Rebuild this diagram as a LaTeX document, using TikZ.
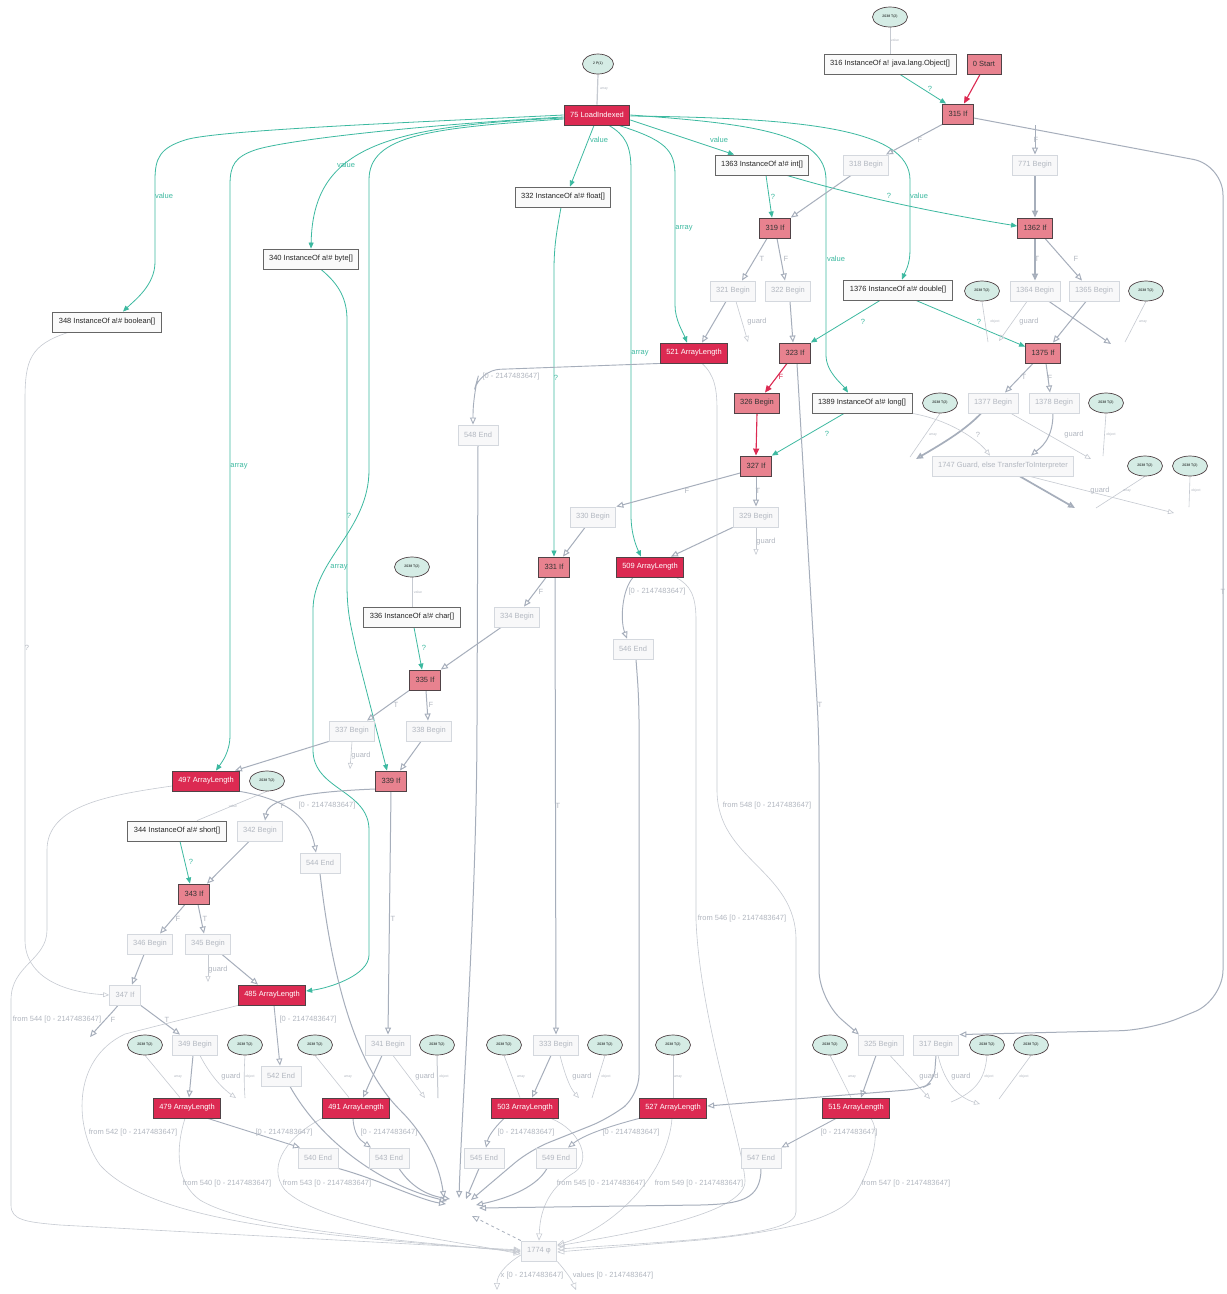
\documentclass[tikz,border=0pt]{standalone}
\usepackage{fontspec}
\setmainfont{Liberation Sans}
\usetikzlibrary{arrows.meta,shapes.geometric}
\definecolor{hotred}{RGB}{220,42,82}
\definecolor{pinkred}{RGB}{232,130,143}
\definecolor{darkedge}{RGB}{80,66,70}
\definecolor{tealc}{RGB}{60,185,160}
\definecolor{ctrlc}{RGB}{166,174,187}
\definecolor{fadefill}{RGB}{248,248,249}
\definecolor{fadeline}{RGB}{212,216,222}
\definecolor{fadetext}{RGB}{178,183,192}
\definecolor{mint}{RGB}{213,236,229}
\definecolor{thinc}{RGB}{198,202,209}
\definecolor{instfill}{RGB}{250,250,250}
\pgfdeclarelayer{bg}
\pgfdeclarelayer{edges}
\pgfsetlayers{bg,edges,main}
\begin{document}
\begin{tikzpicture}[x=1pt,y=-1pt,
  every node/.style={font=\fontsize{7.5}{9}\selectfont, inner sep=1pt},
  box/.style={rectangle, minimum height=20pt, inner xsep=6pt, inner ysep=0pt, line width=0.9pt},
  hot/.style={box, fill=hotred, draw=darkedge, text=white},
  cond/.style={box, fill=pinkred, draw=darkedge, text=black!80},
  inst/.style={box, fill=instfill, draw=black!60, text=black!85},
  faded/.style={box, fill=fadefill, draw=fadeline, text=fadetext},
  oval/.style={ellipse, draw=darkedge, fill=mint, minimum width=35pt, minimum height=20pt, inner sep=0pt, line width=0.7pt, font=\fontsize{3.5}{4}\selectfont},
  data/.style={draw=tealc, line width=0.8pt, -{Triangle[length=6pt,width=5pt]}},
  ctl/.style={draw=ctrlc, line width=1pt, -{Triangle[open,length=7pt,width=6pt]}},
  ctlthick/.style={ctl, line width=1.7pt},
  hotedge/.style={draw=hotred, line width=1.1pt, -{Triangle[length=7pt,width=6pt]}},
  faint/.style={draw=thinc, line width=0.6pt},
  fainta/.style={faint, -{Triangle[open,length=6pt,width=5pt]}},
  tlab/.style={text=tealc},
  glab/.style={text=fadetext},
  slab/.style={text=fadetext, font=\fontsize{3.5}{4}\selectfont},
  rlab/.style={text=hotred},
]
\begin{pgfonlayer}{bg}
\fill[white] (0,0) rectangle (1227,1294);
\end{pgfonlayer}
\useasboundingbox (0,0) rectangle (1227,1294);

% ---------------- nodes ----------------
\node[oval] (t0) at (890,17) {2038 T(2)};
\node[inst] (i316) at (890,64) {316 InstanceOf a! java.lang.Object[]};
\node[cond] (start) at (984,64) {0 Start};
\node[cond] (if315) at (958,114) {315 If};
\node[oval, minimum width=31pt] (p1) at (598,64) {2 P(1)};
\node[hot] (lid) at (597,115) {75 LoadIndexed};
\node[inst] (i1363) at (762,165) {1363 InstanceOf a!\# int[]};
\node[faded] (b318) at (866,165) {318 Begin};
\node[faded] (b771) at (1035,165) {771 Begin};
\node[inst] (i332) at (563,197) {332 InstanceOf a!\# float[]};
\node[cond] (if319) at (775,228) {319 If};
\node[cond] (if1362) at (1035,228) {1362 If};
\node[inst] (i340) at (311,259) {340 InstanceOf a!\# byte[]};
\node[faded] (b321) at (733,291) {321 Begin};
\node[faded] (b322) at (788,291) {322 Begin};
\node[inst] (i1376) at (898,290) {1376 InstanceOf a!\# double[]};
\node[oval] (t1) at (982,291) {2038 T(2)};
\node[faded] (b1364) at (1035,291) {1364 Begin};
\node[faded] (b1365) at (1094,291) {1365 Begin};
\node[oval] (t2) at (1146,291) {2038 T(2)};
\node[inst] (i348) at (107,322) {348 InstanceOf a!\# boolean[]};
\node[hot] (al521) at (694,353) {521 ArrayLength};
\node[cond] (if323) at (795,353) {323 If};
\node[cond] (if1375) at (1043,353) {1375 If};
\node[faded] (e548) at (478,435) {548 End};
\node[cond] (b326) at (757,403) {326 Begin};
\node[inst] (i1389) at (862,403) {1389 InstanceOf a!\# long[]};
\node[oval] (t3) at (940,403) {2038 T(2)};
\node[faded] (b1377) at (993,403) {1377 Begin};
\node[faded] (b1378) at (1054,403) {1378 Begin};
\node[oval] (t4) at (1106,403) {2038 T(2)};
\node[cond] (if327) at (756,466) {327 If};
\node[faded] (g1747) at (1003,466) {1747 Guard, else TransferToInterpreter};
\node[oval] (t5) at (1145,466) {2038 T(2)};
\node[oval] (t6) at (1190,466) {2038 T(2)};
\node[faded] (b330) at (593,517) {330 Begin};
\node[faded] (b329) at (756,517) {329 Begin};
\node[cond] (if331) at (554,567) {331 If};
\node[hot] (al509) at (650,567) {509 ArrayLength};
\node[oval] (t7) at (412,567) {2038 T(2)};
\node[faded] (b334) at (517,617) {334 Begin};
\node[inst] (i336) at (412,617) {336 InstanceOf a!\# char[]};
\node[faded] (e546) at (633,649) {546 End};
\node[cond] (if335) at (425,680) {335 If};
\node[faded] (b337) at (352,731) {337 Begin};
\node[faded] (b338) at (429,731) {338 Begin};
\node[hot] (al497) at (206,781) {497 ArrayLength};
\node[oval] (t8) at (267,781) {2038 T(2)};
\node[cond] (if339) at (391,781) {339 If};
\node[inst] (i344) at (177,831) {344 InstanceOf a!\# short[]};
\node[faded] (b342) at (260,831) {342 Begin};
\node[faded] (e544) at (320,863) {544 End};
\node[cond] (if343) at (194,894) {343 If};
\node[faded] (b346) at (150,944) {346 Begin};
\node[faded] (b345) at (208,944) {345 Begin};
\node[faded] (if347) at (125,995) {347 If};
\node[hot] (al485) at (272,995) {485 ArrayLength};
\node[oval] (t9) at (145,1045) {2038 T(2)};
\node[faded] (b349) at (195,1045) {349 Begin};
\node[oval] (t10) at (245,1045) {2038 T(2)};
\node[oval] (t11) at (315,1045) {2038 T(2)};
\node[faded] (b341) at (388,1045) {341 Begin};
\node[oval] (t12) at (437,1045) {2038 T(2)};
\node[oval] (t13) at (504,1045) {2038 T(2)};
\node[faded] (b333) at (556,1045) {333 Begin};
\node[oval] (t14) at (605,1045) {2038 T(2)};
\node[oval] (t15) at (673,1045) {2038 T(2)};
\node[oval] (t16) at (830,1045) {2038 T(2)};
\node[faded] (b325) at (881,1045) {325 Begin};
\node[faded] (b317) at (936,1045) {317 Begin};
\node[oval] (t17) at (987,1045) {2038 T(2)};
\node[oval] (t18) at (1031,1045) {2038 T(2)};
\node[faded] (e542) at (281,1076) {542 End};
\node[hot] (al479) at (187,1108) {479 ArrayLength};
\node[hot] (al491) at (356,1108) {491 ArrayLength};
\node[hot] (al503) at (525,1108) {503 ArrayLength};
\node[hot] (al527) at (673,1108) {527 ArrayLength};
\node[hot] (al515) at (856,1108) {515 ArrayLength};
\node[faded] (e540) at (318,1158) {540 End};
\node[faded] (e543) at (389,1158) {543 End};
\node[faded] (e545) at (484,1158) {545 End};
\node[faded] (e549) at (556,1158) {549 End};
\node[faded] (e547) at (761,1158) {547 End};
\node[faded] (phi) at (539,1251) {1774 φ};

% free ends
\coordinate (u771) at (1035,125);
\coordinate (d321) at (748,342);
\coordinate (d1364a) at (999,341);
\coordinate (d1364b) at (1111,344);
\coordinate (dt1) at (988,342);
\coordinate (dt2) at (1125,342);
\coordinate (d1377a) at (916,459);
\coordinate (d1377b) at (1091,459);
\coordinate (dt3) at (910,457);
\coordinate (dt4) at (1103,456);
\coordinate (d1747a) at (1075,508);
\coordinate (d1747b) at (1174,513);
\coordinate (dt5) at (1096,508);
\coordinate (dt6) at (1189,507);
\coordinate (d329) at (756,555);
\coordinate (d337) at (350,769);
\coordinate (d345) at (208,982);
\coordinate (d347) at (90,1037);
\coordinate (d349) at (236,1098);
\coordinate (dt10) at (245,1098);
\coordinate (d341) at (425,1098);
\coordinate (dt12) at (438,1098);
\coordinate (d333) at (579,1098);
\coordinate (dt14) at (592,1098);
\coordinate (d325) at (930,1099);
\coordinate (d317) at (980,1104);
\coordinate (dt17) at (951,1102);
\coordinate (dt18) at (999,1099);
\coordinate (mA) at (459,1198);
\coordinate (mB) at (471,1200);
\coordinate (mC) at (444,1198);
\coordinate (mD) at (447,1201);
\coordinate (mE) at (446,1204);
\coordinate (mF) at (450,1199);
\coordinate (mG) at (466,1199);
\coordinate (mH) at (476,1205);
\coordinate (mI) at (479,1208);
\coordinate (mJ) at (472,1216);
\coordinate (px) at (497,1290);
\coordinate (pv) at (576,1290);

\begin{pgfonlayer}{edges}
% ---------------- data (teal) edges ----------------
\draw[data] ([xshift=10pt]i316.south) -- ([xshift=-12pt]if315.north);
\draw[data] (lid.west) .. controls (420,122) and (215,130) .. (185,140) .. controls (160,148) and (155,158) .. (155,180) -- (155,262) .. controls (155,285) and (135,300) .. ([xshift=16pt]i348.north);
\draw[data] ([yshift=-2pt]lid.west) .. controls (420,125) and (285,140) .. (255,150) .. controls (235,157) and (230,165) .. (230,185) -- (230,735) .. controls (230,752) and (222,762) .. ([xshift=10pt]al497.north);
\draw[data] ([yshift=-3pt]lid.west) .. controls (380,126) and (313,150) .. (i340.north);
\draw[data] ([yshift=-4pt]lid.west) .. controls (430,128) and (369,135) .. (369,180) -- (369,470) .. controls (369,530) and (313,560) .. (313,610) -- (313,750) .. controls (313,790) and (369,790) .. (369,830) -- (369,955) .. controls (369,975) and (330,988) .. ([yshift=4pt]al485.east);
\draw[data] ([xshift=10pt]i340.south) .. controls (340,285) and (347,300) .. (347,320) -- (347,585) .. controls (347,615) and (352,630) .. (356,650) -- ([xshift=-4pt]if339.north);
\draw[data] ([xshift=-3pt]lid.south) -- ([xshift=7pt]i332.north);
\draw[data] ([xshift=-2pt]i332.south) .. controls (557,230) and (554,245) .. (554,270) -- (if331.north);
\draw[data] ([xshift=12pt]lid.south) .. controls (625,135) and (631,145) .. (631,170) -- (631,515) .. controls (631,535) and (637,548) .. ([xshift=-9pt]al509.north);
\draw[data] ([xshift=22pt]lid.south) .. controls (665,140) and (675,150) .. (675,175) -- (675,305) .. controls (675,320) and (683,332) .. ([xshift=-7pt]al521.north);
\draw[data] ([yshift=-5pt]lid.east) -- ([xshift=-28pt]i1363.north);
\draw[data] ([xshift=4pt]i1363.south) -- ([xshift=-3pt]if319.north);
\draw[data] ([xshift=25pt]i1363.south) .. controls (870,200) and (950,215) .. ([yshift=2pt]if1362.west);
\draw[data] ([yshift=-1pt]lid.east) .. controls (800,118) and (910,128) .. (910,180) -- (910,250) .. controls (910,265) and (905,272) .. ([xshift=4pt]i1376.north);
\draw[data] (lid.east) .. controls (760,124) and (826,135) .. (826,180) -- (826,355) .. controls (826,372) and (842,384) .. ([xshift=-14pt]i1389.north);
\draw[data] ([xshift=-18pt]i1376.south) -- (if323.north east);
\draw[data] ([xshift=18pt]i1376.south) -- ([yshift=-4pt]if1375.north west);
\draw[data] ([xshift=-18pt]i1389.south) -- (if327.north east);
\draw[data] ([xshift=2pt]i336.south) -- ([xshift=-3pt]if335.north);
\draw[data] ([xshift=3pt]i344.south) -- ([xshift=-4pt]if343.north);

% ---------------- thin attachments ----------------
\draw[faint] (t0.south) -- (i316.north);
\draw[faint, line width=1.2pt] (p1.south) -- (lid.north);
\draw[faint] (t1.south) -- (dt1);
\draw[faint] (t2.south) -- (dt2);
\draw[faint] (t3.south) -- (dt3);
\draw[faint] (t4.south) -- (dt4);
\draw[faint] (t5.south) -- (dt5);
\draw[faint] (t6.south) -- (dt6);
\draw[faint] (t7.south) -- (i336.north);
\draw[faint] (t8.south) -- ([xshift=20pt]i344.north);
\draw[faint] (t9.south) -- ([xshift=-7pt]al479.north);
\draw[faint] (t10.south) .. controls (244,1070) and (244,1085) .. (dt10);
\draw[faint] (t11.south) -- ([xshift=-7pt]al491.north);
\draw[faint, line width=1pt] (t12.south) -- (dt12);
\draw[faint] (t13.south) -- ([xshift=-5pt]al503.north);
\draw[faint] (t14.south) -- (dt14);
\draw[faint] (t15.south) -- (al527.north);
\draw[faint] (t16.south) -- ([xshift=-5pt]al515.north);
\draw[faint] (t17.south) .. controls (985,1080) and (975,1092) .. (dt17);
\draw[faint] (t18.south) -- (dt18);

% ---------------- red edges ----------------
\draw[hotedge] ([xshift=-4pt]start.south) -- ([xshift=6pt]if315.north);
\draw[hotedge] ([xshift=-8pt]if323.south) -- ([xshift=8pt]b326.north);
\draw[hotedge] (b326.south) -- (if327.north);

% ---------------- control edges ----------------
\draw[ctl] (if315.south west) -- ([xshift=20pt]b318.north);
\draw[ctl, rounded corners=30pt] ([yshift=-4pt]if315.east) -- (1223,165) -- (1223,1000) -- (1150,1030) -- (b317.north east);
\draw[ctl] (u771) -- (b771.north);
\draw[ctlthick] (b771.south) -- (if1362.north);
\draw[ctl] ([xshift=-15pt]b318.south) -- (if319.north east);
\draw[ctlthick] (if1362.south) -- (b1364.north);
\draw[ctl] ([xshift=10pt]if1362.south) -- ([xshift=-12pt]b1365.north);
\draw[ctl] ([xshift=-8pt]if319.south) -- ([xshift=9pt]b321.north);
\draw[ctl] ([xshift=2pt]if319.south) -- ([xshift=-3pt]b322.north);
\draw[ctl] ([xshift=-7pt]b321.south) -- ([xshift=8pt]al521.north);
\draw[fainta] ([xshift=3pt]b321.south) -- (d321);
\draw[ctl] ([xshift=2pt]b322.south) -- ([xshift=-2pt]if323.north);
\draw[fainta] ([xshift=-8pt]b1364.south) -- (d1364a);
\draw[ctl] ([xshift=14pt]b1364.south) -- (d1364b);
\draw[ctl] ([xshift=-8pt]b1365.south) -- ([xshift=10pt]if1375.north);
\draw[ctl] ([xshift=-10pt]if1375.south) -- ([xshift=12pt]b1377.north);
\draw[ctl] ([xshift=3pt]if1375.south) -- ([xshift=-4pt]b1378.north);
\draw[ctlthick] ([xshift=-12pt]b1377.south) .. controls (965,430) and (945,442) .. (d1377a);
\draw[fainta] ([xshift=18pt]b1377.south) -- (d1377b);
\draw[ctl] ([xshift=-1pt]b1378.south) .. controls (1053,440) and (1040,448) .. ([xshift=28pt]g1747.north);
\draw[fainta] (i1389.south east) .. controls (950,420) and (978,440) .. ([xshift=-13pt]g1747.north);
\draw[ctlthick] ([xshift=17pt]g1747.south) -- (d1747a);
\draw[fainta] ([xshift=27pt]g1747.south) -- (d1747b);
\draw[ctl, rounded corners=30pt] ([xshift=2pt]if323.south) -- (819,735) -- (819,1000) -- ([xshift=-22pt]b325.north);
\draw[ctl] ([yshift=-7pt]if327.west) -- (b330.north east);
\draw[ctl] (if327.south) -- (b329.north);
\draw[ctl] (b329.south west) -- ([xshift=21pt]al509.north);
\draw[fainta] (b329.south) -- (d329);
\draw[ctl] ([xshift=-8pt]b330.south) -- ([xshift=9pt]if331.north);
\draw[ctl] ([xshift=-8pt]if331.south) -- ([xshift=7pt]b334.north);
\draw[ctl] ([xshift=1pt]if331.south) -- (b333.north);
\draw[ctl] ([xshift=-16pt]b334.south) -- (if335.north east);
\draw[ctl] (if335.south west) -- ([xshift=15pt]b337.north);
\draw[ctl] ([xshift=1pt]if335.south) -- ([xshift=-1pt]b338.north);
\draw[ctl] (b337.south west) -- ([xshift=29pt]al497.north);
\draw[fainta] (b337.south) -- (d337);
\draw[ctl] ([xshift=-8pt]b338.south) -- ([xshift=9pt]if339.north);
\draw[ctl] ([yshift=-8pt]if339.west) .. controls (300,792) and (268,800) .. ([xshift=5pt]b342.north);
\draw[ctl] (if339.south) -- (b341.north);
\draw[ctl] ([xshift=-11pt]b342.south) -- ([xshift=13pt]if343.north);
\draw[ctl] ([xshift=-9pt]if343.south) -- ([xshift=10pt]b346.north);
\draw[ctl] ([xshift=4pt]if343.south) -- ([xshift=-4pt]b345.north);
\draw[ctl] ([xshift=14pt]b345.south) -- ([xshift=-14pt]al485.north);
\draw[fainta] (b345.south) -- (d345);
\draw[ctl] ([xshift=-6pt]b346.south) -- ([xshift=7pt]if347.north);
\draw[fainta] ([xshift=-39pt]i348.south) .. controls (30,345) and (25,360) .. (25,400) -- (25,940) .. controls (25,975) and (60,992) .. (if347.west);
\draw[ctl] ([xshift=-7pt]if347.south) .. controls (110,1015) and (100,1025) .. (d347);
\draw[ctl] (if347.south east) -- ([xshift=-15pt]b349.north);
\draw[ctl] ([xshift=-2pt]b349.south) -- ([xshift=2pt]al479.north);
\draw[fainta] ([xshift=5pt]b349.south) .. controls (210,1075) and (222,1088) .. (d349);
\draw[ctl] ([xshift=-6pt]b341.south) -- ([xshift=7pt]al491.north);
\draw[fainta] ([xshift=5pt]b341.south) -- (d341);
\draw[ctl] ([xshift=-5pt]b333.south) -- ([xshift=7pt]al503.north);
\draw[fainta] ([xshift=4pt]b333.south) .. controls (565,1075) and (570,1088) .. (d333);
\draw[ctl] ([xshift=-5pt]b325.south) -- ([xshift=5pt]al515.north);
\draw[fainta] ([xshift=9pt]b325.south) -- (d325);
\draw[ctl, rounded corners=12pt] (b317.south) -- (934,1082) -- (920,1089) -- ([yshift=2pt]al527.east);
\draw[fainta] ([xshift=2pt]b317.south) .. controls (945,1085) and (960,1098) .. (d317);

% ---------------- ArrayLength outputs ----------------
\draw[ctl, line width=0.9pt, rounded corners=20pt] (al521.south west) -- (480,370) -- (473,395) -- ([xshift=-5pt]e548.north);
\draw[faint, -{Triangle[open,length=7pt,width=6pt]}] ([xshift=8pt]al521.south) .. controls (715,375) and (717,390) .. (717,410) -- (717,790) .. controls (717,860) and (796,870) .. (796,940) -- (796,1212) .. controls (796,1235) and (700,1240) .. ([yshift=2pt]phi.east);
\draw[ctl, line width=0.9pt] ([xshift=-17pt]al509.south) .. controls (622,590) and (620,620) .. ([xshift=-6pt]e546.north);
\draw[faint, -{Triangle[open,length=7pt,width=6pt]}] ([xshift=26pt]al509.south) .. controls (690,585) and (696,595) .. (696,620) -- (696,920) .. controls (700,1020) and (742,1140) .. (745,1180) .. controls (748,1215) and (620,1235) .. ([yshift=5pt]phi.east);
\draw[ctl, line width=0.9pt] (al497.south east) .. controls (290,800) and (310,820) .. ([xshift=-4pt]e544.north);
\draw[faint, -{Triangle[open,length=7pt,width=6pt]}] ([yshift=-5pt]al497.west) .. controls (110,795) and (47,805) .. (47,850) -- (47,930) .. controls (47,960) and (11,965) .. (11,1000) -- (11,1205) .. controls (11,1220) and (25,1222) .. (60,1225) -- ([yshift=1pt]phi.west);
\draw[ctl, line width=0.9pt] ([xshift=2pt]al485.south) -- ([xshift=-1pt]e542.north);
\draw[faint, -{Triangle[open,length=7pt,width=6pt]}] (al485.south west) -- (125,1034) .. controls (70,1060) and (75,1130) .. (100,1165) .. controls (150,1220) and (300,1235) .. (phi.west);
\draw[ctl, line width=0.9pt] ([xshift=21pt]al479.south) -- ([xshift=-18pt]e540.north);
\draw[faint, -{Triangle[open,length=7pt,width=6pt]}] ([xshift=-2pt]al479.south) .. controls (178,1140) and (172,1180) .. (200,1200) .. controls (250,1230) and (400,1240) .. ([yshift=-1pt]phi.west);
\draw[ctl, line width=0.9pt] ([xshift=-3pt]al491.south) .. controls (354,1135) and (360,1140) .. ([xshift=-18pt]e543.north);
\draw[faint, -{Triangle[open,length=7pt,width=6pt]}] (al491.south west) .. controls (290,1135) and (265,1165) .. (285,1190) .. controls (320,1225) and (450,1240) .. ([yshift=-3pt]phi.west);
\draw[ctl, line width=0.9pt] ([xshift=-21pt]al503.south) .. controls (492,1130) and (488,1138) .. ([xshift=2pt]e545.north);
\draw[faint, -{Triangle[open,length=7pt,width=6pt]}] ([xshift=26pt]al503.south) .. controls (580,1130) and (592,1160) .. (575,1172) .. controls (545,1190) and (540,1215) .. (phi.north);
\draw[ctl, line width=0.9pt] ([xshift=-34pt]al527.south) .. controls (595,1130) and (580,1138) .. ([xshift=12pt]e549.north);
\draw[faint, -{Triangle[open,length=7pt,width=6pt]}] ([xshift=-1pt]al527.south) .. controls (668,1170) and (620,1225) .. ([yshift=6pt]phi.east);
\draw[ctl, line width=0.9pt] ([xshift=-20pt]al515.south) -- (e547.north east);
\draw[faint, -{Triangle[open,length=7pt,width=6pt]}] ([xshift=15pt]al515.south) .. controls (882,1135) and (870,1170) .. (855,1195) .. controls (840,1215) and (800,1230) .. (700,1240) -- ([yshift=-1pt]phi.east);

% ---------------- End nodes to merge ----------------
\draw[ctl] (e548.south) -- (477,720) .. controls (477,900) and (462,1100) .. (mA);
\draw[ctl, rounded corners=20pt] ([xshift=3pt]e546.south) -- (639,700) -- (639,1095) -- (610,1118) -- (530,1150) -- (mB);
\draw[ctl] (e544.south) .. controls (330,960) and (350,1060) .. (400,1110) .. controls (430,1140) and (440,1170) .. (mC);
\draw[ctl] ([xshift=9pt]e542.south) .. controls (320,1140) and (380,1185) .. (mD);
\draw[ctl] (e540.south east) .. controls (380,1180) and (420,1200) .. (mE);
\draw[ctl] ([xshift=10pt]e543.south) .. controls (410,1185) and (425,1195) .. (mF);
\draw[ctl] ([xshift=-5pt]e545.south) -- (mG);
\draw[ctl] ([xshift=-9pt]e549.south) .. controls (535,1190) and (500,1200) .. (mH);
\draw[ctl] (e547.south) .. controls (761,1200) and (740,1204) .. (700,1205) -- (mI);
\draw[ctl, dashed, line width=0.8pt] (phi.north west) -- (mJ);
\draw[faint, -{Triangle[open,length=7pt,width=6pt]}] ([yshift=-4pt]phi.west) .. controls (505,1265) and (497,1275) .. (px);
\draw[faint, -{Triangle[open,length=7pt,width=6pt]}] (phi.south east) .. controls (565,1270) and (572,1280) .. (pv);
\end{pgfonlayer}

% ---------------- labels ----------------
\node[tlab] (lq1) at (930,89) {?};
\node[tlab] (lv1) at (164,196) {value};
\node[tlab] (la1) at (239,466) {array};
\node[tlab] (lv2) at (346,165) {value};
\node[tlab] (la2) at (339,567) {array};
\node[tlab] (lq2) at (349,516) {?};
\node[tlab] (lv3) at (599,140) {value};
\node[tlab] (lq3) at (556,378) {?};
\node[tlab] (la3) at (640,353) {array};
\node[tlab] (la4) at (684,228) {array};
\node[tlab] (lv4) at (719,140) {value};
\node[tlab] (lq4) at (773,197) {?};
\node[tlab] (lq5) at (889,196) {?};
\node[tlab] (lv5) at (919,196) {value};
\node[tlab] (lv6) at (836,259) {value};
\node[tlab] (lq6) at (863,322) {?};
\node[tlab] (lq7) at (979,322) {?};
\node[tlab] (lq8) at (827,434) {?};
\node[tlab] (lq9) at (424,648) {?};
\node[tlab] (lq10) at (191,862) {?};

\node[slab] (s1) at (895,40) {value};
\node[slab] (s2) at (604,89) {array};
\node[slab] (s3) at (995,322) {object};
\node[slab] (s4) at (1143,322) {array};
\node[slab] (s5) at (933,435) {array};
\node[slab] (s6) at (1111,435) {object};
\node[slab] (s7) at (1127,491) {array};
\node[slab] (s8) at (1196,491) {object};
\node[slab] (s9) at (418,592) {value};
\node[slab] (s10) at (233,806) {value};
\node[slab] (s11) at (178,1077) {array};
\node[slab] (s12) at (250,1077) {object};
\node[slab] (s13) at (348,1077) {array};
\node[slab] (s14) at (444,1077) {object};
\node[slab] (s15) at (521,1077) {array};
\node[slab] (s16) at (606,1077) {object};
\node[slab] (s17) at (678,1077) {array};
\node[slab] (s18) at (852,1077) {array};
\node[slab] (s19) at (989,1077) {object};
\node[slab] (s20) at (1024,1077) {object};

\node[rlab] (r1) at (781,377) {F};
\node[glab] (g1) at (920,140) {F};
\node[glab] (g2) at (1223,592) {T};
\node[glab] (g3) at (1036,140) {F};
\node[glab] (g4) at (1037,259) {T};
\node[glab] (g5) at (1076,259) {F};
\node[glab] (g6) at (762,259) {T};
\node[glab] (g7) at (786,259) {F};
\node[glab] (g8) at (1024,377) {T};
\node[glab] (g9) at (1050,378) {F};
\node[glab] (g10) at (978,435) {?};
\node[glab] (g11) at (687,491) {F};
\node[glab] (g12) at (758,491) {T};
\node[glab] (g13) at (541,592) {F};
\node[glab] (g14) at (558,806) {T};
\node[glab] (g15) at (820,705) {T};
\node[glab] (g16) at (396,705) {T};
\node[glab] (g17) at (431,705) {F};
\node[glab] (g18) at (283,806) {F};
\node[glab] (g19) at (393,919) {T};
\node[glab] (g20) at (178,919) {F};
\node[glab] (g21) at (205,919) {T};
\node[glab] (g22) at (113,1020) {F};
\node[glab] (g23) at (167,1020) {T};
\node[glab] (g24) at (27,648) {?};

\node[glab] (gd1) at (757,322) {guard};
\node[glab] (gd2) at (1029,322) {guard};
\node[glab] (gd3) at (1074,435) {guard};
\node[glab] (gd4) at (1100,491) {guard};
\node[glab] (gd5) at (766,542) {guard};
\node[glab] (gd6) at (361,756) {guard};
\node[glab] (gd7) at (218,970) {guard};
\node[glab] (gd8) at (231,1077) {guard};
\node[glab] (gd9) at (425,1077) {guard};
\node[glab] (gd10) at (582,1077) {guard};
\node[glab] (gd11) at (929,1077) {guard};
\node[glab] (gd12) at (961,1077) {guard};

\node[glab] (k1) at (511,377) {[0 - 2147483647]};
\node[glab] (k2) at (657,592) {[0 - 2147483647]};
\node[glab] (k3) at (327,806) {[0 - 2147483647]};
\node[glab] (k4) at (308,1020) {[0 - 2147483647]};
\node[glab] (k5) at (284,1133) {[0 - 2147483647]};
\node[glab] (k6) at (389,1133) {[0 - 2147483647]};
\node[glab] (k7) at (526,1133) {[0 - 2147483647]};
\node[glab] (k8) at (631,1133) {[0 - 2147483647]};
\node[glab] (k9) at (849,1133) {[0 - 2147483647]};
\node[glab] (f1) at (767,806) {from 548 [0 - 2147483647]};
\node[glab] (f2) at (742,919) {from 546 [0 - 2147483647]};
\node[glab] (f3) at (57,1020) {from 544 [0 - 2147483647]};
\node[glab] (f4) at (133,1133) {from 542 [0 - 2147483647]};
\node[glab] (f5) at (227,1184) {from 540 [0 - 2147483647]};
\node[glab] (f6) at (327,1184) {from 543 [0 - 2147483647]};
\node[glab] (f7) at (601,1184) {from 545 [0 - 2147483647]};
\node[glab] (f8) at (699,1184) {from 549 [0 - 2147483647]};
\node[glab] (f9) at (906,1184) {from 547 [0 - 2147483647]};
\node[glab] (x1) at (532,1276) {x [0 - 2147483647]};
\node[glab] (x2) at (613,1276) {values [0 - 2147483647]};
\end{tikzpicture}
\end{document}
